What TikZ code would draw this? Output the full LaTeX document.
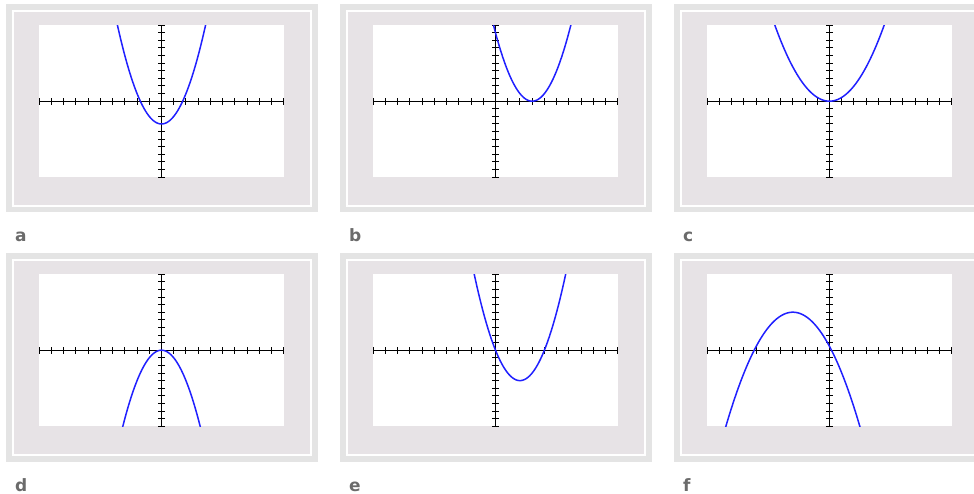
\documentclass[tikz,border=0pt]{standalone}
\usepackage{fontspec}
\setsansfont{DejaVu Sans}
\definecolor{screenGray}{HTML}{E4E4E4}
\definecolor{screenFill}{HTML}{E7E3E6}
\definecolor{curveBlue}{HTML}{2020FF}
\definecolor{tagGray}{HTML}{6B6B6B}

% one calculator screen: #1,#2 top left corner, #3 function of \x, #4 tag
\newcommand{\calcscreen}[4]{%
  \begin{scope}[shift={(#1,#2)}]
    \fill[screenframe] (0,0) rectangle (312,208.5);
    \draw[bezel] (7,7) rectangle (305,202);
    \fill[window] (33.3,21) rectangle (277.7,173.3);
    \begin{scope}[shift={(155.5,97.2)}, x=12.22pt, y=7.6pt]
      \draw[axisline] (-10,0) -- (10,0);
      \draw[axisline] (0,-10) -- (0,10);
      \foreach \t in {-10,...,10} {
        \draw[tickmark] (\t,0) ++(0,-3.5pt) -- ++(0,7pt);
        \draw[tickmark] (0,\t) ++(-3.5pt,0) -- ++(7pt,0);
      }
      \begin{scope}
        \clip (-10,-10) rectangle (10,10);
        \draw[curve] plot[domain=-10:10, samples=201] (\x,{#3});
      \end{scope}
    \end{scope}
    \node[paneltag] (tag-#4) at (9,238) {#4};
  \end{scope}}

\begin{document}
\begin{tikzpicture}[x=1pt, y=-1pt,
    screenframe/.style={fill=screenGray},
    bezel/.style={draw=white, line width=2pt, fill=screenFill},
    window/.style={fill=white},
    axisline/.style={draw=black, line width=1.3pt},
    tickmark/.style={draw=black, line width=1pt},
    curve/.style={draw=curveBlue, line width=1.5pt, smooth},
    paneltag/.style={font=\sffamily\bfseries\fontsize{17}{17}\selectfont, text=tagGray,
      anchor=base west, inner sep=0pt}
  ]
  \clip (0,0) rectangle (974,494);

  \calcscreen{6}{4}{(\x)*(\x)-3}{a}
  \calcscreen{340}{4}{(\x-3)*(\x-3)}{b}
  \calcscreen{674}{4}{0.5*(\x)*(\x)}{c}

  \calcscreen{6}{253}{-(\x)*(\x)}{d}
  \calcscreen{340}{253}{(\x)*(\x)-4*(\x)}{e}
  \calcscreen{674}{253}{-0.5*(\x+3)*(\x+3)+5}{f}
\end{tikzpicture}
\end{document}
